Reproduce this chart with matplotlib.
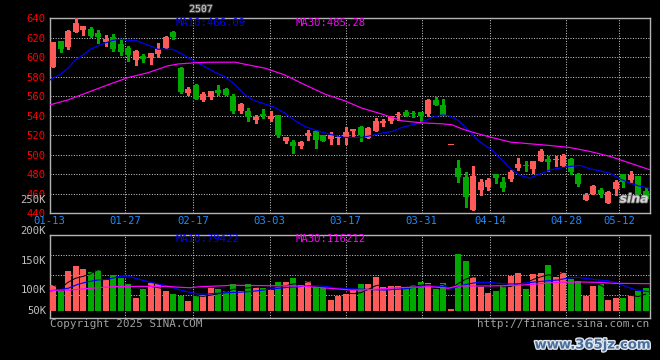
import numpy as np
import pandas as pd
import matplotlib
matplotlib.use("Agg")
import matplotlib.pyplot as plt
from matplotlib.patches import Rectangle
import matplotlib.patheffects as pe

# ---------------- data ----------------
title = "2507"
tick_labels = ["01-13", "01-27", "02-17", "03-03", "03-17", "03-31", "04-14", "04-28", "05-12"]
tick_idx = [0, 10, 19, 29, 39, 49, 58, 68, 75]

opens = [590.4, 616.7, 610.6, 626.0, 628.0, 629.0, 624.9, 615.7, 620.8, 613.6,
         609.5, 597.2, 601.3, 599.5, 603.4, 609.5, 626.0, 589.0, 563.4, 571.5,
         556.2, 559.3, 566.5, 567.5, 560.3, 545.0, 545.0, 535.7, 541.8, 536.7,
         540.8, 514.2, 513.1, 509.0, 519.3, 524.4, 520.3, 516.2, 517.5, 518.3,
         524.5, 528.5, 517.3, 524.4, 532.6, 534.7, 541.0, 543.9, 542.0, 543.9,
         541.8, 556.2, 551.0, 509.8, 486.4, 477.2, 443.3, 463.9, 467.0, 480.2,
         472.1, 475.2, 486.4, 489.0, 485.4, 493.6, 495.6, 494.0, 488.5, 495.6,
         480.2, 453.6, 459.7, 463.9, 450.5, 464.9, 480.2, 474.1, 478.2, 462.9]
highs = [616.0, 617.0, 627.5, 640.0, 632.5, 631.1, 628.0, 622.9, 623.9, 618.8,
         611.6, 607.5, 603.4, 604.5, 614.7, 621.8, 626.5, 590.0, 569.6, 572.0,
         564.7, 565.4, 571.6, 568.5, 562.3, 552.5, 548.0, 540.8, 547.0, 544.9,
         541.0, 518.5, 515.2, 513.5, 525.4, 525.0, 520.5, 523.4, 519.3, 528.5,
         526.5, 529.5, 528.0, 537.7, 536.7, 540.0, 544.0, 546.0, 545.0, 544.0,
         557.2, 559.3, 557.2, 510.2, 494.6, 482.3, 488.5, 475.2, 476.1, 480.5,
         477.2, 484.3, 496.6, 493.6, 493.8, 505.9, 498.7, 498.7, 500.8, 496.6,
         481.3, 460.8, 469.0, 466.0, 462.9, 474.1, 480.5, 483.3, 478.5, 466.0]
lows = [590.0, 605.8, 608.9, 625.5, 622.9, 620.8, 614.7, 611.6, 606.8, 602.3,
        596.2, 592.1, 595.2, 593.0, 600.3, 609.0, 618.8, 563.4, 561.3, 557.0,
        555.2, 557.2, 561.3, 561.0, 542.9, 543.0, 534.7, 532.6, 537.7, 534.7,
        518.3, 512.1, 501.8, 507.0, 515.2, 507.0, 514.0, 511.1, 511.0, 511.1,
        519.3, 514.2, 517.0, 524.0, 529.5, 532.6, 536.0, 539.5, 538.8, 533.6,
        539.8, 550.8, 540.5, 509.8, 472.1, 446.4, 443.0, 458.8, 464.0, 471.1,
        462.9, 473.1, 484.3, 483.3, 481.3, 493.0, 483.3, 488.5, 488.0, 480.2,
        467.9, 453.0, 459.5, 456.7, 450.0, 458.8, 467.0, 472.1, 459.5, 454.0]
closes = [615.7, 608.9, 627.0, 635.2, 632.1, 621.8, 620.8, 618.8, 608.5, 605.4,
          602.3, 606.5, 598.2, 604.0, 608.5, 620.8, 620.8, 564.4, 567.5, 557.2,
          562.3, 565.0, 563.4, 561.3, 545.0, 552.1, 538.8, 538.8, 539.8, 539.8,
          520.3, 518.3, 509.0, 513.1, 522.4, 515.2, 514.2, 520.3, 518.3, 523.4,
          526.4, 520.3, 527.5, 534.7, 534.7, 539.8, 541.8, 539.8, 541.5, 539.8,
          556.2, 551.0, 540.8, 510.2, 477.2, 456.7, 478.2, 472.1, 474.1, 476.1,
          466.0, 482.3, 490.5, 488.3, 493.6, 503.9, 492.6, 494.6, 498.7, 482.3,
          469.9, 458.8, 467.9, 459.7, 461.8, 472.1, 472.1, 479.2, 460.0, 454.6]
# volume in thousands of shares
volumes = [106.6, 82.0, 164.0, 184.5, 172.2, 159.9, 168.1, 127.1, 147.6, 135.3,
           110.7, 53.3, 90.2, 114.8, 110.7, 82.0, 69.7, 61.5, 41.0, 61.5,
           65.6, 94.3, 90.2, 82.0, 110.7, 82.0, 110.7, 98.4, 94.3, 86.1,
           118.9, 118.9, 135.3, 106.6, 123.0, 98.4, 94.3, 45.1, 61.5, 69.7,
           86.1, 110.7, 110.7, 139.4, 98.4, 102.5, 102.5, 98.4, 106.6, 118.9,
           114.8, 90.2, 114.8, 8.2, 233.7, 205.0, 139.4, 98.4, 73.8, 82.0,
           102.5, 144.7, 155.8, 90.2, 151.7, 155.8, 188.6, 139.4, 159.9, 131.2,
           123.0, 61.5, 102.5, 110.7, 45.1, 53.3, 53.3, 61.5, 82.0, 94.3]

ma10_x = [-0.4, 0, 1, 2, 3, 4, 5, 6, 7, 8, 9, 10, 11, 12, 13, 14, 15, 16, 17, 18, 19,
          21.6, 22.9, 24.3, 25.6, 26.9, 28.3, 29.6, 30.9, 32.3, 33.6, 34.9, 36.3, 37.6,
          38.9, 41.2, 42.5, 43.9, 45.2, 46.5, 47.9, 49.2, 50.5, 51.9, 52.8, 53.9, 54.9,
          56.3, 57.6, 58.5, 59.6, 60.9, 62.3, 63.6, 64.9, 66.3, 67.6, 68.9, 70.3, 71.6,
          72.9, 74.3, 75.6, 76.9, 78.3, 79.5]
ma10_y = [576.7, 578.5, 582.6, 588.7, 597.2, 602.3, 608.2, 611.9, 614.7, 617.4, 618.5,
          617.4, 617.4, 614.4, 611.6, 608.2, 608.2, 608.2, 604.1, 599.6, 595.5,
          584.6, 580.1, 571.6, 561.3, 555.2, 551.8, 548.3, 542.6, 534.7, 528.8, 525.4,
          522.1, 519.6, 517.6, 517.6, 519.6, 522.1, 523.7, 527.8, 530.6, 533.3, 538.0,
          540.8, 539.8, 535.7, 528.8, 516.9, 509.3, 505.0, 496.4, 486.2, 478.6, 475.9,
          480.0, 484.4, 486.2, 487.8, 488.8, 485.4, 483.4, 480.7, 474.9, 470.8, 467.3,
          465.5]
ma30_x = [-0.4, 2, 4.7, 7.3, 10, 12.7, 15.3, 16.7, 18, 19.3, 21, 24.3, 25.6, 28.3,
          30.9, 33.6, 36.3, 38.9, 41.2, 43.9, 46.5, 49.2, 51.9, 53.2, 54.5, 55.9, 57.2,
          58.5, 61, 63.6, 66.3, 68.9, 71.6, 74.3, 76.9, 79.5]
ma30_y = [551.1, 556.2, 564.1, 571.6, 579.1, 584.2, 591.1, 593.1, 593.8, 594.5, 594.9,
          594.9, 592.8, 588.7, 581.8, 571.6, 562.0, 555.2, 547.7, 541.5, 534.7, 532.6,
          531.6, 530.6, 526.5, 523.1, 520.3, 517.6, 512.8, 511.1, 509.3, 507.3, 503.2,
          498.1, 491.3, 484.6]

vma10_x = [-0.4, 2, 3.33, 4.67, 6, 7.33, 8.67, 10, 11.33, 12.67, 14, 15.33, 16.67, 18,
           19.33, 20.67, 22, 23.33, 24.67, 26, 27.33, 28.67, 30, 31.33, 32.67, 34, 35.33,
           36.67, 38, 39.33, 41.6, 44.27, 45.6, 46.93, 48.27, 49.6, 50.93, 52.27, 53.2,
           54.27, 55.33, 56.67, 58, 59.33, 60.67, 62, 63.33, 64.67, 66, 67.33, 68.67, 70,
           71.33, 72.67, 74, 75.33, 76.67, 78, 79.5]
vma10_y = [82.0, 93.0, 109.5, 120.1, 127.1, 130.0, 140.6, 143.5, 131.2, 120.1, 110.7,
           102.5, 89.0, 77.9, 69.7, 69.7, 72.6, 75.0, 76.7, 79.1, 83.2, 89.0, 93.0, 97.2,
           99.6, 102.5, 103.7, 99.6, 93.0, 91.4, 89.0, 86.1, 89.0, 91.4, 97.2, 102.5,
           102.5, 99.6, 93.0, 102.5, 110.7, 117.7, 117.7, 113.6, 110.7, 110.7, 116.0,
           120.1, 124.2, 127.1, 135.3, 138.2, 132.4, 127.1, 124.2, 113.6, 97.2, 84.0,
           79.4]
vma30_x = [-0.4, 2.3, 4.9, 8.5, 15.2, 16.9, 18.3, 19.6, 24, 32.9, 36.9, 39.6, 41.3,
           43.6, 45.8, 47.6, 50.3, 52, 52.7, 53.9, 56.9, 60, 62.7, 64.5, 67.2, 70.3,
           72.5, 74.7, 79.5]
vma30_y = [84.9, 86.0, 93.0, 101.0, 101.0, 97.2, 95.5, 99.6, 105.4, 102.5, 93.0, 86.1,
           86.1, 90.2, 95.5, 97.2, 99.6, 95.5, 93.0, 102.5, 102.5, 103.7, 106.6, 110.7,
           117.7, 118.9, 117.7, 113.6, 112.0]

price_ticks = [440, 460, 480, 500, 520, 540, 560, 580, 600, 620, 640]
vol_tick_labels = ["250K", "200K", "150K", "100K", "50K"]
ma_labels_price = ["MA10:466.09", "MA30:485.28"]
ma_labels_vol = ["MA10:79422", "MA30:116212"]

# ---------------- style ----------------
W, H = 660, 360
RED = "#ff5a5a"
GREEN = "#00a800"
GRID = "#c8c8c8"
FRAME = "#b4b4b4"
MONO = "DejaVu Sans Mono"
FS = 7.0
PX = 72 / 100  # one pixel in points

def fx(px):
    return px / W

def fy(py):
    return 1 - py / H

fig = plt.figure(figsize=(W / 100, H / 100), dpi=100, facecolor="black")

X0, X1 = 50, 649.5
ax_p = fig.add_axes([fx(X0), fy(213), (X1 - X0) / W, (213 - 18.3) / H])
ax_v = fig.add_axes([fx(X0), fy(318), (X1 - X0) / W, (318 - 234.7) / H])

n = len(closes)
idx = np.arange(n)
xlim = (-0.4, 79.53)

for ax in (ax_p, ax_v):
    ax.set_facecolor("black")
    ax.set_xlim(*xlim)
    ax.set_xticks([])
    for s in ax.spines.values():
        s.set_color(FRAME)
        s.set_linewidth(PX * 1.4)
    ax.tick_params(length=0)

# gridline positions (label scale of the source chart)
grid_pos = [1.014 * t - 0.54 for t in tick_idx]

# ----- price panel -----
ax_p.set_ylim(440, 640)
for v in price_ticks[1:-1]:
    ax_p.axhline(v, color=GRID, lw=PX, ls=(0, (1, 1.6)), zorder=1)
for gp in grid_pos[1:]:
    ax_p.axvline(gp, color=GRID, lw=PX, ls=(0, (1, 1.6)), zorder=1)

ax_p.set_yticks(price_ticks)
ax_p.set_yticklabels([str(v) for v in price_ticks], color="#ff0000",
                     fontsize=FS + 0.6, family=MONO)
ax_p.tick_params(axis="y", pad=3)

body_w = 0.8
for i in range(n):
    o, h, l, c = opens[i], highs[i], lows[i], closes[i]
    col = RED if c >= o else GREEN
    ax_p.vlines(i, l, h, color=col, lw=PX * 1.1, zorder=3, antialiased=False)
    bot = min(o, c)
    hgt = max(abs(c - o), 1.0)
    ax_p.add_patch(Rectangle((i - body_w / 2, bot), body_w, hgt, facecolor=col,
                             edgecolor="none", zorder=4, antialiased=False))

ax_p.plot(ma10_x, ma10_y, color="#0000ff", lw=PX * 1.2, zorder=5)
ax_p.plot(ma30_x, ma30_y, color="#ff00ff", lw=PX * 1.2, zorder=5)

# date labels
for gp, lab in zip(grid_pos, tick_labels):
    ax_p.text(gp, -0.04, lab, transform=ax_p.get_xaxis_transform(), ha="center",
              va="center", color="#1e8cff", fontsize=FS + 0.6, family=MONO, clip_on=False)

# ----- volume panel -----
vbot = -(318 - 311) * 4.1
vtop = (311 - 234.7) * 4.1
ax_v.set_ylim(vbot, vtop)
ax_v.set_yticks([])
for f in (0.2725, 0.516, 0.757):
    ax_v.axhline(vbot + f * (vtop - vbot), color=GRID, lw=PX, ls=(0, (1, 1.6)), zorder=1)
for gp in grid_pos[1:]:
    ax_v.axvline(gp, color=GRID, lw=PX, ls=(0, (1, 1.6)), zorder=1)

vcols = [RED if closes[i] >= opens[i] else GREEN for i in range(n)]
ax_v.bar(idx, volumes, width=body_w, color=vcols, zorder=3, antialiased=False)
vma5 = pd.Series(volumes).rolling(5, min_periods=1).mean()
ax_v.plot(idx, vma5, color="black", lw=PX, zorder=4)
ax_v.plot(vma10_x, vma10_y, color="#0000ff", lw=PX * 1.2, zorder=5)
ax_v.plot(vma30_x, vma30_y, color="#ff00ff", lw=PX * 1.2, zorder=5)

# volume axis labels (positions as in the source image)
for lab, py in zip(vol_tick_labels, [200, 231, 261, 290, 311]):
    fig.text(fx(46), fy(py), lab, ha="right", va="center", color="#c0c0c0",
             fontsize=FS + 0.6, family=MONO)

# ----- texts -----
fig.text(fx(201), fy(9), title, ha="center", va="center", color="#d0d0d0",
         fontsize=FS, family=MONO,
         path_effects=[pe.withStroke(linewidth=1.5, foreground="#404040")])
fig.text(fx(175), fy(22.5), ma_labels_price[0], ha="left", va="center",
         color="#0000ff", fontsize=FS + 0.6, family=MONO)
fig.text(fx(295), fy(22.5), ma_labels_price[1], ha="left", va="center",
         color="#ff00ff", fontsize=FS + 0.6, family=MONO)
fig.text(fx(175), fy(238.5), ma_labels_vol[0], ha="left", va="center",
         color="#0000ff", fontsize=FS + 0.6, family=MONO)
fig.text(fx(295), fy(238.5), ma_labels_vol[1], ha="left", va="center",
         color="#ff00ff", fontsize=FS + 0.6, family=MONO)
fig.text(fx(50), fy(324), "Copyright 2025 SINA.COM", ha="left", va="center",
         color="#a0a0a0", fontsize=FS + 0.9, family=MONO)
fig.text(fx(649), fy(324), "http://finance.sina.com.cn", ha="right", va="center",
         color="#a0a0a0", fontsize=FS + 0.9, family=MONO)
fig.text(fx(634), fy(199), "sina", ha="center", va="center", color="#e0e0e0",
         fontsize=9, fontstyle="italic", fontweight="bold", alpha=0.85,
         path_effects=[pe.withStroke(linewidth=1.2, foreground="#808080")])
fig.text(fx(593), fy(345), "www.365jz.com", ha="center", va="center",
         color="#4a6e9c", fontsize=9.5, fontweight="bold", family="DejaVu Sans",
         path_effects=[pe.withStroke(linewidth=2.0, foreground="#dfe6ee")])

fig.savefig("out.png", dpi=100, facecolor="black")
